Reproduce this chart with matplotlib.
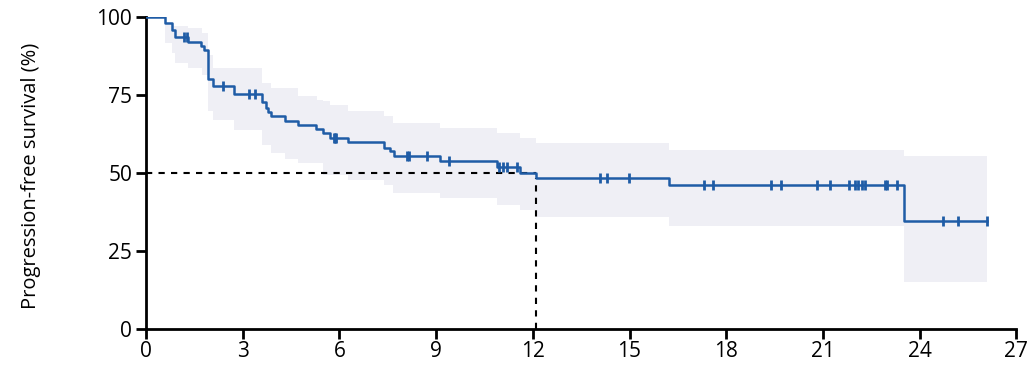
import numpy as np
import matplotlib.pyplot as plt

# Kaplan-Meier steps (months, % PFS)
event_t = [0, 0.59, 0.80, 0.90, 1.30, 1.70, 1.80, 1.91, 2.07, 2.73, 3.60, 3.71, 3.80, 3.88,
           4.30, 4.71, 5.28, 5.50, 5.71, 6.28, 7.40, 7.58, 7.70, 9.11, 10.89, 11.60, 12.10,
           16.22, 23.50, 26.10]
surv = [100, 97.9, 95.8, 93.6, 92.1, 90.8, 89.4, 80.0, 77.9, 75.2, 72.6, 70.9, 69.4, 68.3,
        66.7, 65.4, 64.1, 62.7, 61.1, 59.9, 58.0, 57.0, 55.4, 53.8, 51.9, 50.0, 48.3,
        46.0, 34.6, 34.6]

# 95% CI band
ci_t = [0, 0.59, 0.80, 0.90, 1.30, 1.75, 1.91, 2.07, 2.73, 3.60, 3.88, 4.30, 4.71, 5.30, 5.50,
        5.71, 6.28, 7.40, 7.65, 9.11, 10.89, 11.60, 12.10, 16.22, 23.50, 26.10]
ci_up = [100, 97.4, 97.2, 97.1, 96.3, 94.8, 87.8, 83.5, 83.5, 78.7, 77.1, 77.1, 74.5, 73.4, 72.9,
         71.8, 69.7, 68.1, 65.9, 64.3, 62.7, 61.1, 59.5, 57.4, 55.3, 55.3]
ci_lo = [100, 91.6, 88.4, 85.1, 83.5, 81.4, 69.7, 67.0, 63.8, 59.0, 56.3, 54.6, 53.1, 53.1, 49.4,
         49.4, 47.8, 46.2, 43.4, 41.8, 39.7, 38.1, 36.0, 33.1, 14.9, 14.9]

# censored observations
cens_t = [1.18, 1.27, 2.39, 3.20, 3.38, 5.83, 5.87, 5.91, 8.10, 8.16, 8.72, 9.39, 10.96, 11.09,
          11.20, 11.51, 14.10, 14.29, 14.98, 17.31, 17.59, 19.40, 19.71, 20.81, 21.21, 21.81,
          22.00, 22.10, 22.20, 22.30, 22.92, 22.98, 23.29, 24.71, 25.20, 26.10]

median_t = 12.1
median_y = 50

plt.rcParams['font.family'] = ['Open Sans', 'DejaVu Sans']

fig = plt.figure(figsize=(10.35, 3.67), dpi=100)
ax = fig.add_axes([0.141, 0.104, 0.841, 0.85])

line_col = '#1f5ca6'

ax.fill_between(ci_t, ci_lo, ci_up, step='post', color='#efeff5', lw=0, zorder=1)
ax.step(event_t, surv, where='post', color=line_col, lw=1.8, zorder=3)

# censor ticks sit on the curve level at that time
cens_y = [surv[np.searchsorted(event_t, c, side='right') - 1] for c in cens_t]
ax.plot(cens_t, cens_y, ls='none', marker='|', ms=7, mew=2, color=line_col, zorder=4)

# median lines
ax.plot([0, median_t], [median_y, median_y], ls=(0, (3, 3)), color='black', lw=1.5, zorder=2)
ax.plot([median_t, median_t], [0, surv[event_t.index(12.10)]], ls=(0, (3, 3)),
        color='black', lw=1.5, zorder=2)

ax.set_xlim(0, 27)
ax.set_ylim(0, 100)
ax.set_xticks(np.arange(0, 28, 3))
ax.set_yticks([0, 25, 50, 75, 100])
ax.set_ylabel('Progression-free survival (%)', fontsize=14.5)
ax.yaxis.set_label_coords(-0.12, 0.49)

for s in ['top', 'right']:
    ax.spines[s].set_visible(False)
for s in ['left', 'bottom']:
    ax.spines[s].set_linewidth(2)
ax.tick_params(axis='both', direction='out', length=7, width=2, labelsize=15)
ax.tick_params(axis='y', pad=3)
ax.tick_params(axis='x', pad=2)

fig.savefig('out.png', dpi=100)
